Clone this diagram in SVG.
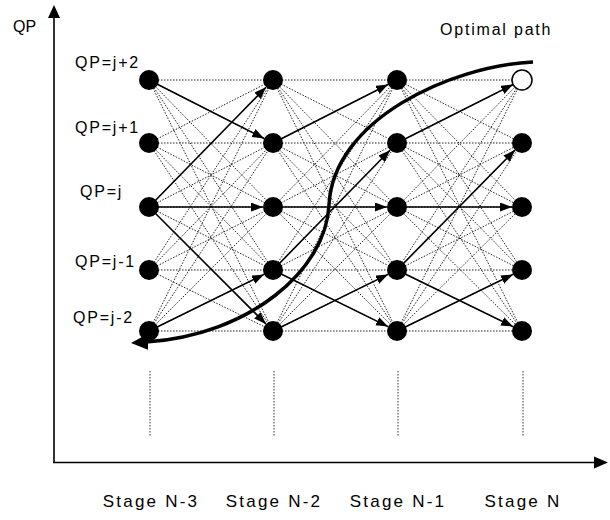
<svg xmlns="http://www.w3.org/2000/svg" width="610" height="520" viewBox="0 0 610 520">
<style>
.lbl{font-family:"Liberation Sans",Arial,sans-serif;font-size:16px;fill:#000;letter-spacing:1.8px}
.stage{font-family:"Liberation Sans",Arial,sans-serif;font-size:17px;fill:#000;letter-spacing:2.2px;text-anchor:middle}
.dot{fill:none;stroke:#222;stroke-width:1;stroke-dasharray:1.5 1.5}
.sol{fill:none;stroke:#000;stroke-width:1.6;marker-end:url(#ah)}
.node{fill:#000}
.axis{fill:none;stroke:#000;stroke-width:1.6}
.guide{fill:none;stroke:#333;stroke-width:1;stroke-dasharray:1.5 1.5}
</style>
<defs>
<marker id="ah" markerUnits="userSpaceOnUse" markerWidth="13" markerHeight="10" refX="12" refY="4.5" orient="auto">
<path d="M0,0 L12,4.5 L0,9 z" fill="#000"/>
</marker>
<marker id="bigah" markerUnits="userSpaceOnUse" markerWidth="18" markerHeight="17" refX="2" refY="8" orient="auto">
<path d="M0,0 L17,8 L0,16 z" fill="#000"/>
</marker>
</defs>
<rect width="610" height="520" fill="#fff"/>
<g id="axes">
<line class="axis" x1="54" y1="463" x2="54" y2="16"/>
<polygon points="54,5 48,18 60,18" fill="#000"/>
<line class="axis" x1="53" y1="462.5" x2="596" y2="462.5"/>
<polygon points="608,462.5 594,456.5 594,468.5" fill="#000"/>
<text class="lbl" x="13" y="32" style="letter-spacing:0">QP</text>
</g>
<g id="guides">
<line class="guide" x1="150" y1="371" x2="150" y2="436"/>
<line class="guide" x1="274" y1="371" x2="274" y2="436"/>
<line class="guide" x1="398" y1="371" x2="398" y2="436"/>
<line class="guide" x1="523" y1="371" x2="523" y2="436"/>
</g>
<g id="labels">
<text class="lbl" x="75" y="68">QP=j+2</text>
<text class="lbl" x="75" y="133">QP=j+1</text>
<text class="lbl" x="80" y="197">QP=j</text>
<text class="lbl" x="75" y="267">QP=j-1</text>
<text class="lbl" x="73" y="323">QP=j-2</text>
<text class="lbl" x="440" y="35">Optimal path</text>
<text class="stage" x="151" y="507">Stage N-3</text>
<text class="stage" x="274" y="507">Stage N-2</text>
<text class="stage" x="398" y="507">Stage N-1</text>
<text class="stage" x="523" y="507">Stage N</text>
</g>
<g id="connectors">
<path class="dot" d="M149 80L273 80M149 80L273 143M149 80L273 207M149 80L273 270M149 80L273 331M149 143L273 80M149 143L273 143M149 143L273 207M149 143L273 270M149 143L273 331M149 207L273 80M149 207L273 143M149 207L273 207M149 207L273 270M149 207L273 331M149 270L273 80M149 270L273 143M149 270L273 207M149 270L273 270M149 270L273 331M149 331L273 80M149 331L273 143M149 331L273 207M149 331L273 270M149 331L273 331"/>
<path class="dot" d="M273 80L397 80M273 80L397 143M273 80L397 207M273 80L397 270M273 80L397 331M273 143L397 80M273 143L397 143M273 143L397 207M273 143L397 270M273 143L397 331M273 207L397 80M273 207L397 143M273 207L397 207M273 207L397 270M273 207L397 331M273 270L397 80M273 270L397 143M273 270L397 207M273 270L397 270M273 270L397 331M273 331L397 80M273 331L397 143M273 331L397 207M273 331L397 270M273 331L397 331"/>
<path class="dot" d="M397 80L522 80M397 80L522 143M397 80L522 207M397 80L522 270M397 80L522 331M397 143L522 80M397 143L522 143M397 143L522 207M397 143L522 270M397 143L522 331M397 207L522 80M397 207L522 143M397 207L522 207M397 207L522 270M397 207L522 331M397 270L522 80M397 270L522 143M397 270L522 207M397 270L522 270M397 270L522 331M397 331L522 80M397 331L522 143M397 331L522 207M397 331L522 270M397 331L522 331"/>
<line class="sol" x1="149" y1="80" x2="264.1" y2="138.5"/>
<line class="sol" x1="149" y1="207" x2="266" y2="87.2"/>
<line class="sol" x1="149" y1="207" x2="263" y2="207"/>
<line class="sol" x1="149" y1="207" x2="265.9" y2="323.9"/>
<line class="sol" x1="149" y1="331" x2="264" y2="274.4"/>
<line class="sol" x1="273" y1="143" x2="388.1" y2="84.5"/>
<line class="sol" x1="273" y1="207" x2="387" y2="207"/>
<line class="sol" x1="273" y1="270" x2="390" y2="150.2"/>
<line class="sol" x1="273" y1="270" x2="388" y2="326.6"/>
<line class="sol" x1="273" y1="331" x2="388" y2="274.4"/>
<line class="sol" x1="397" y1="143" x2="513.1" y2="84.5"/>
<line class="sol" x1="397" y1="207" x2="512" y2="207"/>
<line class="sol" x1="397" y1="270" x2="515" y2="150.1"/>
<line class="sol" x1="397" y1="270" x2="513" y2="326.6"/>
<line class="sol" x1="397" y1="331" x2="513" y2="274.4"/>
</g>
<g id="nodes">
<g id="n-3-2"><circle class="node" cx="149" cy="80" r="10"/></g>
<g id="n-3-1"><circle class="node" cx="149" cy="143" r="10"/></g>
<g id="n-3-0"><circle class="node" cx="149" cy="207" r="10"/></g>
<g id="n-3-m1"><circle class="node" cx="149" cy="270" r="10"/></g>
<g id="n-3-m2"><circle class="node" cx="149" cy="331" r="10"/></g>
<g id="n-2-2"><circle class="node" cx="273" cy="80" r="10"/></g>
<g id="n-2-1"><circle class="node" cx="273" cy="143" r="10"/></g>
<g id="n-2-0"><circle class="node" cx="273" cy="207" r="10"/></g>
<g id="n-2-m1"><circle class="node" cx="273" cy="270" r="10"/></g>
<g id="n-2-m2"><circle class="node" cx="273" cy="331" r="10"/></g>
<g id="n-1-2"><circle class="node" cx="397" cy="80" r="10"/></g>
<g id="n-1-1"><circle class="node" cx="397" cy="143" r="10"/></g>
<g id="n-1-0"><circle class="node" cx="397" cy="207" r="10"/></g>
<g id="n-1-m1"><circle class="node" cx="397" cy="270" r="10"/></g>
<g id="n-1-m2"><circle class="node" cx="397" cy="331" r="10"/></g>
<g id="n-0-2"><circle cx="522" cy="80" r="10" fill="#fff" stroke="#000" stroke-width="1.5"/></g>
<g id="n-0-1"><circle class="node" cx="522" cy="143" r="10"/></g>
<g id="n-0-0"><circle class="node" cx="522" cy="207" r="10"/></g>
<g id="n-0-m1"><circle class="node" cx="522" cy="270" r="10"/></g>
<g id="n-0-m2"><circle class="node" cx="522" cy="331" r="10"/></g>
</g>
<g id="optimal-path">
<path d="M533,62 C450,66 333,120 329,205 C326,270 250,335 146,342" fill="none" stroke="#000" stroke-width="3.5" marker-end="url(#bigah)"/>
</g>
</svg>
